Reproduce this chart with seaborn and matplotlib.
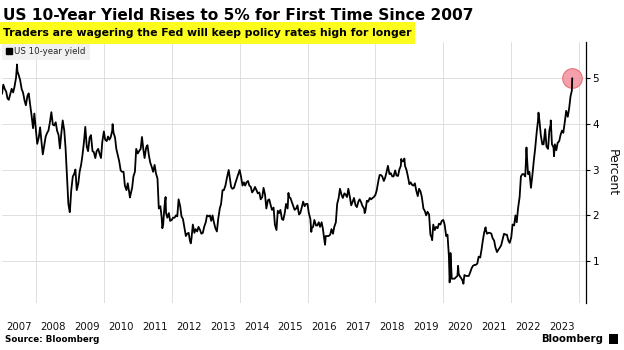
import numpy as np
import pandas as pd
import matplotlib
matplotlib.use("Agg")
import matplotlib.pyplot as plt
import matplotlib.dates as mdates
from matplotlib.lines import Line2D
from matplotlib.patches import Rectangle
import seaborn as sns

# ---------------- data ----------------
title = "US 10-Year Yield Rises to 5% for First Time Since 2007"
subtitle = "Traders are wagering the Fed will keep policy rates high for longer"
series_name = "US 10-year yield"
source_text = "Source: Bloomberg"
brand_text = "Bloomberg"
y_label = "Percent"
year_labels = [str(y) for y in range(2007, 2024)]
y_ticks = [1, 2, 3, 4, 5]

# semi-monthly readings (1st and 15th of each month), percent
y2007 = [4.65, 4.85, 4.75, 4.70, 4.55, 4.52, 4.65, 4.76, 4.68, 4.80, 5.00, 5.15, 5.05, 4.95, 4.75, 4.68, 4.50, 4.40, 4.60, 4.66, 4.40, 4.18, 3.90, 4.22]
y2008 = [3.85, 3.56, 3.70, 3.92, 3.60, 3.33, 3.55, 3.72, 3.80, 3.85, 4.05, 4.25, 3.98, 3.96, 4.03, 3.85, 3.75, 3.46, 3.80, 4.07, 3.85, 3.46, 2.80, 2.25]
y2009 = [2.10, 2.55, 2.85, 2.90, 3.00, 2.55, 2.70, 2.95, 3.10, 3.30, 3.60, 3.93, 3.50, 3.40, 3.70, 3.75, 3.40, 3.38, 3.25, 3.40, 3.45, 3.35, 3.25, 3.60]
y2010 = [3.83, 3.65, 3.62, 3.72, 3.65, 3.70, 3.85, 3.80, 3.70, 3.45, 3.30, 3.18, 2.98, 2.95, 2.95, 2.65, 2.55, 2.70, 2.50, 2.45, 2.60, 2.85, 2.95, 3.45]
y2011 = [3.35, 3.40, 3.45, 3.71, 3.45, 3.25, 3.48, 3.53, 3.30, 3.15, 3.05, 2.95, 3.10, 2.92, 2.80, 2.15, 2.20, 1.95, 1.80, 2.20, 2.05, 1.95, 2.05, 1.88]
y2012 = [1.90, 1.95, 1.95, 2.00, 1.98, 2.35, 2.20, 1.98, 1.92, 1.75, 1.55, 1.60, 1.62, 1.45, 1.50, 1.80, 1.62, 1.70, 1.65, 1.75, 1.68, 1.60, 1.62, 1.75]
y2013 = [1.85, 2.00, 1.98, 2.00, 1.88, 2.00, 1.83, 1.72, 1.65, 1.92, 2.15, 2.25, 2.55, 2.55, 2.65, 2.80, 2.95, 2.85, 2.62, 2.58, 2.60, 2.70, 2.80, 2.88]
y2014 = [2.99, 2.85, 2.65, 2.72, 2.65, 2.72, 2.75, 2.65, 2.62, 2.50, 2.55, 2.62, 2.55, 2.48, 2.50, 2.35, 2.40, 2.60, 2.45, 2.15, 2.33, 2.35, 2.22, 2.12]
y2015 = [2.17, 1.80, 1.68, 2.10, 2.05, 2.12, 1.92, 1.90, 2.05, 2.25, 2.15, 2.40, 2.38, 2.30, 2.20, 2.12, 2.15, 2.22, 2.02, 2.05, 2.18, 2.30, 2.20, 2.25]
y2016 = [2.25, 2.05, 1.92, 1.72, 1.75, 1.90, 1.78, 1.78, 1.85, 1.75, 1.85, 1.70, 1.45, 1.55, 1.55, 1.55, 1.58, 1.70, 1.60, 1.75, 1.85, 2.25, 2.38, 2.58]
y2017 = [2.45, 2.38, 2.48, 2.45, 2.40, 2.58, 2.40, 2.22, 2.30, 2.38, 2.22, 2.18, 2.30, 2.35, 2.28, 2.20, 2.15, 2.10, 2.32, 2.30, 2.38, 2.35, 2.38, 2.40]
y2018 = [2.45, 2.55, 2.75, 2.88, 2.88, 2.85, 2.75, 2.82, 2.95, 3.08, 2.90, 2.92, 2.85, 2.85, 2.98, 2.87, 2.86, 3.00, 3.08, 3.18, 3.18, 3.08, 2.99, 2.86]
y2019 = [2.68, 2.72, 2.66, 2.65, 2.70, 2.55, 2.42, 2.58, 2.52, 2.40, 2.15, 2.10, 2.00, 2.08, 2.02, 1.58, 1.50, 1.80, 1.68, 1.75, 1.72, 1.82, 1.80, 1.88]
y2020 = [1.90, 1.80, 1.55, 1.58, 1.12, 0.75, 0.62, 0.62, 0.62, 0.65, 0.68, 0.72, 0.66, 0.62, 0.55, 0.70, 0.68, 0.68, 0.68, 0.75, 0.85, 0.90, 0.92, 0.92]
y2021 = [0.95, 1.10, 1.08, 1.25, 1.45, 1.62, 1.70, 1.60, 1.62, 1.62, 1.60, 1.50, 1.45, 1.30, 1.20, 1.25, 1.30, 1.35, 1.48, 1.60, 1.58, 1.58, 1.45, 1.40]
y2022 = [1.52, 1.80, 1.78, 2.00, 1.85, 2.15, 2.40, 2.85, 2.90, 2.90, 2.85, 3.40, 2.90, 2.95, 2.60, 2.85, 3.20, 3.45, 3.80, 4.05, 4.05, 3.75, 3.55, 3.55]
y2023 = [3.88, 3.50, 3.45, 3.85, 3.98, 3.55, 3.48, 3.55, 3.42, 3.58, 3.62, 3.75, 3.85, 3.80, 4.05, 4.28, 4.15, 4.32, 4.60, 4.72]

# notable daily highs / lows
peak_dates = ["2007-06-12", "2008-12-30", "2010-04-05", "2010-10-08", "2011-09-22", "2011-10-27",
              "2012-07-24", "2013-09-05", "2015-06-10", "2016-02-11", "2016-07-08", "2017-09-07",
              "2018-10-05", "2018-11-08", "2019-09-03", "2020-03-09", "2020-03-18", "2020-06-08",
              "2020-08-04", "2021-03-31", "2022-06-14", "2022-10-21", "2023-03-02", "2023-04-06",
              "2023-10-19"]
peak_vals = [5.29, 2.07, 3.99, 2.39, 1.72, 2.40,
             1.39, 2.99, 2.49, 1.64, 1.36, 2.05,
             3.23, 3.24, 1.46, 0.54, 1.18, 0.90,
             0.51, 1.74, 3.48, 4.24, 4.07, 3.29,
             4.99]

grid_vals = (y2007 + y2008 + y2009 + y2010 + y2011 + y2012 + y2013 + y2014 + y2015 +
             y2016 + y2017 + y2018 + y2019 + y2020 + y2021 + y2022 + y2023)
grid_dates = pd.date_range("2007-01-01", "2023-10-15", freq="SMS")
assert len(grid_dates) == len(grid_vals)

df = pd.concat([
    pd.DataFrame({"date": grid_dates, "value": grid_vals}),
    pd.DataFrame({"date": pd.to_datetime(peak_dates), "value": peak_vals}),
]).sort_values("date").reset_index(drop=True)

# ---------------- figure ----------------
sns.set_theme(style="white")
plt.rcParams["font.family"] = ["DejaVu Sans"]

W, H = 624, 350
fig = plt.figure(figsize=(W / 100, H / 100), dpi=100)
fig.patch.set_facecolor("white")

ax_l, ax_r, ax_t, ax_b = 2, 585.7, 42, 303
ax = fig.add_axes([ax_l / W, 1 - ax_b / H, (ax_r - ax_l) / W, (ax_b - ax_t) / H])

sns.lineplot(data=df, x="date", y="value", ax=ax, color="black", linewidth=1.3,
             legend=False, zorder=3)
last = df.iloc[-1]
ax.scatter([last["date"]], [last["value"]], s=200, color="#f3919c", alpha=0.85,
           edgecolor="#e4646f", linewidth=0.8, zorder=2)

ax.set_xlim(pd.Timestamp("2007-01-01"), pd.Timestamp("2024-03-12"))
ax.set_ylim(0.09, 5.78)

for s in ["left", "top", "bottom"]:
    ax.spines[s].set_visible(False)
ax.spines["right"].set_visible(True)
ax.spines["right"].set_color("black")
ax.spines["right"].set_linewidth(0.9)

ax.yaxis.tick_right()
ax.set_yticks(y_ticks)
ax.set_yticklabels([str(t) for t in y_ticks])
ax.tick_params(axis="y", which="major", direction="out", length=3, width=0.8,
               colors="black", labelsize=7.5, pad=2, right=True, left=False)
ax.set_ylabel("")
ax.set_xlabel("")

mid_years = [pd.Timestamp(f"{y}-07-02") for y in year_labels]
ax.set_xticks(mid_years)
ax.set_xticklabels(year_labels)
ax.set_xticks([pd.Timestamp(f"{y}-01-01") for y in range(2008, 2025, 2)], minor=True)
ax.tick_params(axis="x", which="both", length=0, labelsize=7.3, pad=13.5, colors="#111111")

ax.grid(False)
ax.grid(which="minor", axis="x", color="#dedede", linewidth=0.7)
ax.grid(which="major", axis="y", color="#dedede", linewidth=0.7)
ax.set_axisbelow(True)

handle = Line2D([], [], marker="s", color="black", linestyle="none", markersize=3.8)
leg = ax.legend([handle], [series_name], loc="upper left", bbox_to_anchor=(0, 1),
                borderaxespad=0, frameon=True, fancybox=False, facecolor="#eeeeee",
                edgecolor="#eeeeee", fontsize=6.2, handlelength=0.5, handletextpad=0.3,
                borderpad=0.55)
leg.get_frame().set_linewidth(0)

fig.text(612 / W, 1 - 173 / H, y_label, rotation=270, ha="center", va="center",
         fontsize=9, color="#111111")

# highlight behind subtitle
fig.patches.append(Rectangle((0, 1 - 44 / H), 415 / W, 22 / H, transform=fig.transFigure,
                             facecolor="#fcfc1e", edgecolor="none", zorder=0))

t_title = fig.text(2.7 / W, 1 - 19.5 / H, title, fontsize=13, fontweight="bold",
                   ha="left", va="baseline", color="black")
t_sub = fig.text(2.7 / W, 1 - 35.5 / H, subtitle, fontsize=9, fontweight="bold",
                 ha="left", va="baseline", color="black")
t_src = fig.text(5 / W, 1 - 342.5 / H, source_text, fontsize=6, fontweight="bold",
                 ha="left", va="baseline", color="black")
t_brand = fig.text(603.3 / W, 1 - 342 / H, brand_text, fontsize=8, fontweight="bold",
                   ha="right", va="baseline", color="black")
fig.patches.append(Rectangle((608.5 / W, 1 - 343.5 / H), 9 / W, 9.5 / H,
                             transform=fig.transFigure, facecolor="black",
                             edgecolor="none"))

fig.canvas.draw()
renderer = fig.canvas.get_renderer()


def fit(t, target):
    w = t.get_window_extent(renderer).width
    t.set_fontsize(t.get_fontsize() * target / w)


fit(t_title, 467.5)
fit(t_sub, 408)
fit(t_src, 95)
fit(t_brand, 61.5)

fig.savefig("out.png", dpi=100, facecolor="white")
